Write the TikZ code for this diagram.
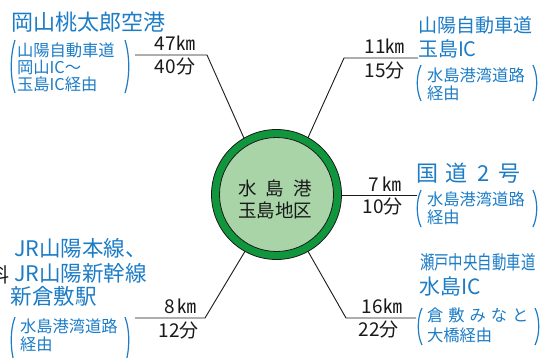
\documentclass[tikz,border=0pt]{standalone}
\usepackage{fontspec}
\setmainfont{Noto Sans CJK JP}
\usepackage{graphicx}
\definecolor{bluC}{RGB}{28,124,198}
\definecolor{ringC}{RGB}{16,150,60}
\definecolor{fillC}{RGB}{168,212,168}
\definecolor{inkC}{RGB}{25,25,25}
\newcommand\fsz[1]{\fontsize{#1}{#1}\selectfont}
\begin{document}
\begin{tikzpicture}[x=1pt,y=-1pt,
  lbl/.style={inner sep=0pt, outer sep=0pt, anchor=base west, text=bluC},
  sublbl/.style={lbl, font=\fsz{16.3}},
  dist/.style={inner sep=0pt, outer sep=0pt, anchor=base, text=inkC, font=\fsz{19}},
  paren/.style={draw=bluC, line width=1.2pt},
  conn/.style={draw=inkC, line width=0.9pt},
  ctext/.style={inner sep=0pt, outer sep=0pt, anchor=base, text=inkC, font=\fsz{18.5}}
]
\useasboundingbox (0,0) rectangle (542,357);

% central circle
\node[circle, minimum size=130pt, inner sep=0pt, outer sep=0pt, fill=ringC, draw=inkC, line width=0.8pt] (port) at (276.5,194.5) {};
\node[circle, minimum size=114pt, inner sep=0pt, outer sep=0pt, fill=fillC, draw=inkC, line width=0.8pt] (core) at (port.center) {};
\node[ctext] (c1) at (275,195) {水\hspace{9pt}島\hspace{9pt}港};
\node[ctext] (c2) at (275,217) {玉島地区};

% top-left
\node[lbl, font=\fsz{22}] (air) at (12,30) {岡山桃太郎空港};
\node[sublbl] (air1) at (17,56) {山陽自動車道};
\node[sublbl] (air2) at (17,73) {岡山IC～};
\node[sublbl] (air3) at (17,90) {玉島IC経由};
\draw[paren] (15,40) .. controls (10,56) and (10,77) .. (15,93);
\draw[paren] (125,40) .. controls (130,56) and (130,77) .. (125,93);
\node[dist] (d1a) at (175,50) {47㎞};
\node[dist] (d1b) at (175,73) {40分};
\coordinate (e1) at (135,55);
\coordinate (b1) at (207,55);
\draw[conn] (e1) -- (b1) -- (port.120);

% top-right
\node[lbl, font=\fsz{19}] (tr1) at (418,32) {山陽自動車道};
\node[lbl, font=\fsz{20}] (tr2) at (418,56) {玉島IC};
\node[sublbl] (tr3) at (427,81) {水島港湾道路};
\node[sublbl] (tr4) at (427,99) {経由};
\draw[paren] (421,65) .. controls (416,76) and (416,90) .. (421,101);
\draw[paren] (533,65) .. controls (538,76) and (538,90) .. (533,101);
\node[dist] (d2a) at (384.5,53) {11㎞};
\node[dist] (d2b) at (384.5,77) {15分};
\coordinate (e2) at (418,58);
\coordinate (b2) at (344,58);
\draw[conn] (e2) -- (b2) -- (port.61);

% middle right
\node[lbl, font=\fsz{22}] (nr) at (416,181) {国\hspace{8pt}道\hspace{10pt}2\hspace{8pt}号};
\node[sublbl] (nr1) at (427,205) {水島港湾道路};
\node[sublbl] (nr2) at (427,223) {経由};
\draw[paren] (421,190) .. controls (416,201) and (416,216) .. (421,227);
\draw[paren] (533,190) .. controls (538,201) and (538,216) .. (533,227);
\node[dist] (d3a) at (385,191) {7\,㎞};
\node[dist] (d3b) at (382.5,213) {10分};
\coordinate (e3) at (417,195.5);
\draw[conn] (e3) -- (e3 -| port.east);

% bottom-left
\node[inner sep=0pt, anchor=base east, text=inkC, font=\fsz{20}] (cut) at (10,282) {料};
\node[lbl, font=\fsz{21.5}] (jr1) at (14,256) {JR山陽本線、};
\node[lbl, font=\fsz{21.5}] (jr2) at (14,281) {JR山陽新幹線};
\node[lbl, font=\fsz{21.5}] (jr3) at (11,304) {新倉敷駅};
\node[sublbl] (jr4) at (20,332) {水島港湾道路};
\node[sublbl] (jr5) at (20,350) {経由};
\draw[paren] (15,317) .. controls (10,330) and (10,350) .. (15,365);
\draw[paren] (125,317) .. controls (130,330) and (130,350) .. (125,365);
\node[dist] (d4a) at (180.5,313) {8\,㎞};
\node[dist] (d4b) at (178.5,337) {12分};
\coordinate (e4) at (135,318);
\coordinate (b4) at (205,318);
\draw[conn] (e4) -- (b4) -- (port.241);

% bottom-right
\node[lbl, font=\fsz{19}] (br1) at (420,269) {\scalebox{0.76}[1]{瀬戸中央自動車道}};
\node[lbl, font=\fsz{21}] (br2) at (419,294) {水島IC};
\node[sublbl] (br3) at (427,321) {倉\hspace{5pt}敷\hspace{5pt}み\hspace{5pt}な\hspace{5pt}と};
\node[sublbl] (br4) at (427,341) {大橋経由};
\draw[paren] (422,308) .. controls (417,318) and (417,335) .. (422,345);
\draw[paren] (535,308) .. controls (540,318) and (540,335) .. (535,345);
\node[dist] (d5a) at (382,313) {16㎞};
\node[dist] (d5b) at (378.5,336) {22分};
\coordinate (e5) at (416,318);
\coordinate (b5) at (346,318);
\draw[conn] (e5) -- (b5) -- (port.299);
\end{tikzpicture}
\end{document}
